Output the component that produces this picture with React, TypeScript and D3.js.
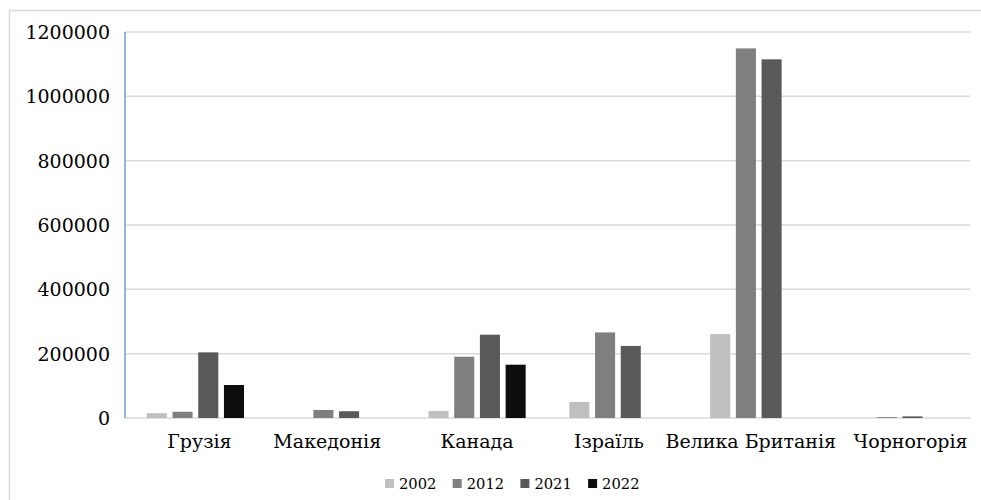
import * as d3 from 'd3'

const categories = ['Грузія', 'Македонія', 'Канада', 'Ізраїль', 'Велика Британія', 'Чорногорія']
const years = ['2002', '2012', '2021', '2022']

const values2002 = [15000, 0, 22000, 50000, 261000, 0]
const values2012 = [19500, 25000, 190500, 266000, 1149000, 2500]
const values2021 = [204000, 21000, 259000, 224000, 1115000, 5000]
const values2022 = [102600, 0, 165700, 0, 0, 0]

const yTicks = [0, 200000, 400000, 600000, 800000, 1000000, 1200000]

const seriesValues = [values2002, values2012, values2021, values2022]
const colors = ['#bfbfbf', '#7f7f7f', '#595959', '#0d0d0d']

const W = 981
const H = 500
const PLOT = { left: 125, right: 970, top: 32, bottom: 418 }
const FONT = '"DejaVu Serif", "Liberation Serif", serif'

// the source nudges some category labels off the band centre
const LABEL_DX: Record<string, number> = {
  'Грузія': 4, 'Македонія': -9, 'Канада': 0, 'Ізраїль': -9, 'Велика Британія': -8, 'Чорногорія': 11,
}

export default function App() {
  const x0 = d3.scaleBand<string>()
    .domain(categories)
    .range([PLOT.left, PLOT.right])
    .paddingInner(0.27)
    .paddingOuter(0.135)

  const x1 = d3.scaleBand<string>()
    .domain(years)
    .range([0, x0.bandwidth()])
    .paddingInner(0.22)
    .paddingOuter(0.11)

  const y = d3.scaleLinear().domain([0, 1200000]).range([PLOT.bottom, PLOT.top])

  const legendStep = 67.7
  const legendX = 385

  return (
    <svg width={W} height={H} style={{ position: 'absolute', left: 0, top: 0, background: '#fff' }}>
      {/* outer frame (right/bottom edges fall off the picture) */}
      <rect x={9.5} y={10.5} width={990} height={500} fill="#fff" stroke="#d9d9d9" strokeWidth={1.5} />

      {/* gridlines */}
      {yTicks.map((t) => (
        <line key={t} x1={PLOT.left} x2={PLOT.right} y1={y(t)} y2={y(t)}
          stroke="#d9d9d9" strokeWidth={1.5} />
      ))}

      {/* y tick labels */}
      {yTicks.map((t) => (
        <text key={'l' + t} x={110} y={y(t)} dy="0.36em" textAnchor="end"
          style={{ fontFamily: FONT, fontSize: 19, fill: '#000' }}>
          {t}
        </text>
      ))}

      {/* bars */}
      {categories.map((c, i) => (
        <g key={c} transform={`translate(${x0(c)},0)`}>
          {years.map((yr, j) => {
            const v = seriesValues[j][i]
            if (!v) return null
            return (
              <rect key={yr}
                x={x1(yr)} width={x1.bandwidth()}
                y={y(v)} height={y(0) - y(v)}
                fill={colors[j]} />
            )
          })}
        </g>
      ))}

      {/* y axis line */}
      <line x1={PLOT.left} x2={PLOT.left} y1={PLOT.top} y2={PLOT.bottom}
        stroke="#6f9bd6" strokeWidth={1.5} />

      {/* category labels */}
      {categories.map((c) => (
        <text key={'c' + c} x={(x0(c) ?? 0) + x0.bandwidth() / 2 + LABEL_DX[c]} y={448}
          textAnchor="middle"
          style={{ fontFamily: FONT, fontSize: 19, fill: '#000' }}>
          {c}
        </text>
      ))}

      {/* legend */}
      {years.map((yr, j) => (
        <g key={'lg' + yr} transform={`translate(${legendX + j * legendStep},0)`}>
          <rect x={0} y={479} width={9} height={9} fill={colors[j]} />
          <text x={14} y={483.5} dy="0.36em"
            style={{ fontFamily: FONT, fontSize: 14.7, fill: '#000' }}>
            {yr}
          </text>
        </g>
      ))}
    </svg>
  )
}
